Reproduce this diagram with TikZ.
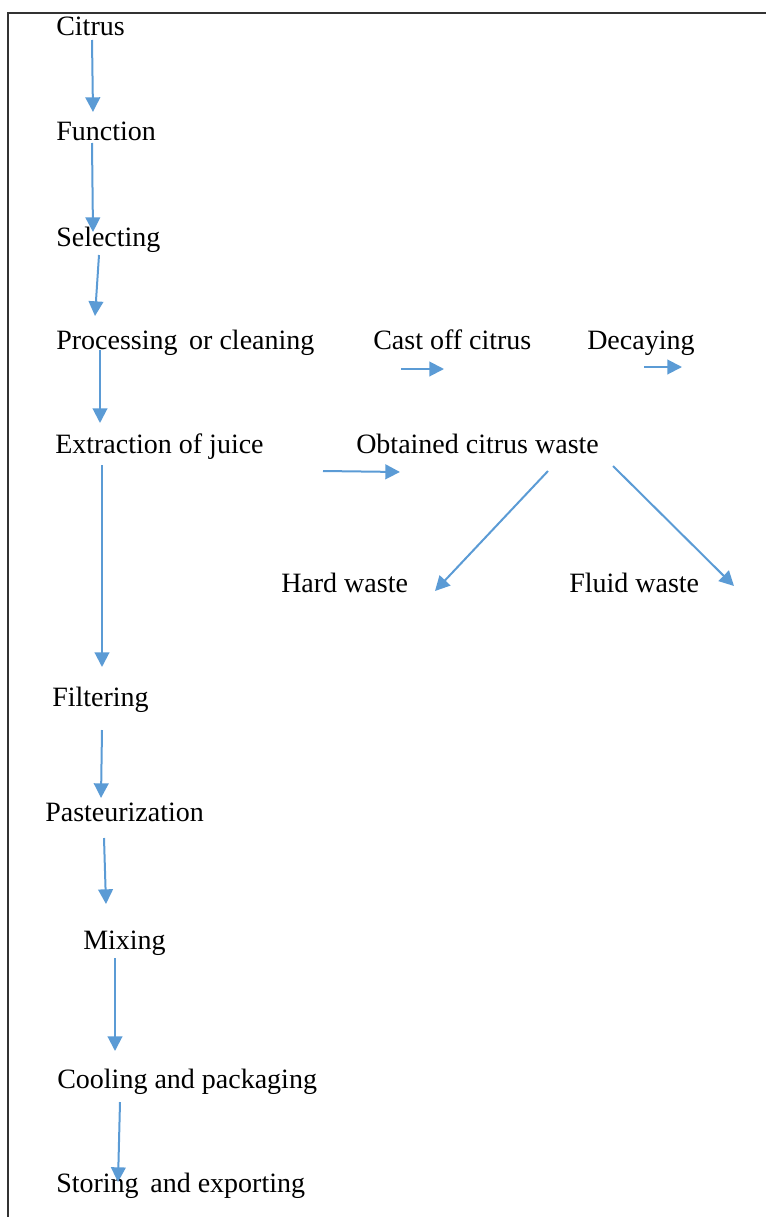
\documentclass[tikz,border=0pt]{standalone}
\usepackage{fontspec}
\setmainfont{Liberation Serif}
\usetikzlibrary{arrows.meta}
\definecolor{arrowblue}{HTML}{5B9BD5}
\definecolor{framegray}{HTML}{333333}
\tikzset{
  lbl/.style={anchor=base west, inner sep=0pt, font=\fontsize{21}{25}\selectfont},
  flow/.style={draw=arrowblue, line width=1.5pt, -{Triangle[length=11pt,width=11pt]}, arrowblue},
}
\begin{document}
\begin{tikzpicture}[x=0.75pt,y=-0.75pt]
\useasboundingbox (0,0) rectangle (766,1217);
\draw[framegray, line width=1.1pt] (8,1217) -- (8,13) -- (766,13);

% labels
\node[lbl] (citrus) at (56,35) {Citrus};
\node[lbl] (function) at (56,140) {Function};
\node[lbl] (selecting) at (56,246) {Selecting};
\node[lbl] (processing) at (56,349) {Processing\, or cleaning};
\node[lbl] (castoff) at (373,349) {Cast off citrus};
\node[lbl] (decaying) at (587,349) {Decaying};
\node[lbl] (extraction) at (55,453) {Extraction of juice};
\node[lbl] (obtained) at (356,453) {Obtained citrus waste};
\node[lbl] (hard) at (281,592) {Hard waste};
\node[lbl] (fluid) at (569,592) {Fluid waste};
\node[lbl] (filtering) at (52,706) {Filtering};
\node[lbl] (pasteurization) at (45,821) {Pasteurization};
\node[lbl] (mixing) at (83,949) {Mixing};
\node[lbl] (cooling) at (57,1088) {Cooling and packaging};
\node[lbl] (storing) at (56,1192) {Storing\, and exporting};

% connector end points
\coordinate (c1s) at (92,40);   \coordinate (c1e) at (93,112);
\coordinate (c2s) at (92,143);  \coordinate (c2e) at (93,232);
\coordinate (c3s) at (99,255);  \coordinate (c3e) at (95,316);
\coordinate (c4s) at (100,350); \coordinate (c4e) at (100,423);
\coordinate (c5s) at (102,465); \coordinate (c5e) at (102,667);
\coordinate (c6s) at (102,730); \coordinate (c6e) at (101,798);
\coordinate (c7s) at (104,838); \coordinate (c7e) at (106,904);
\coordinate (c8s) at (115,958); \coordinate (c8e) at (115,1051);
\coordinate (c9s) at (120,1102); \coordinate (c9e) at (118,1182);
\coordinate (r1s) at (401,369); \coordinate (r1e) at (444,369);
\coordinate (r2s) at (644,367); \coordinate (r2e) at (682,367);
\coordinate (r3s) at (323,471); \coordinate (r3e) at (400,472);
\coordinate (r4s) at (548,471); \coordinate (r4e) at (435,591);
\coordinate (r5s) at (613,466); \coordinate (r5e) at (734,586);

% connectors
\draw[flow] (c1s) -- (c1e);
\draw[flow] (c2s) -- (c2e);
\draw[flow] (c3s) -- (c3e);
\draw[flow] (c4s) -- (c4e);
\draw[flow] (c5s) -- (c5e);
\draw[flow] (c6s) -- (c6e);
\draw[flow] (c7s) -- (c7e);
\draw[flow] (c8s) -- (c8e);
\draw[flow] (c9s) -- (c9e);
\draw[flow] (r1s) -- (r1e);
\draw[flow] (r2s) -- (r2e);
\draw[flow] (r3s) -- (r3e);
\draw[flow] (r4s) -- (r4e);
\draw[flow] (r5s) -- (r5e);
\end{tikzpicture}
\end{document}
